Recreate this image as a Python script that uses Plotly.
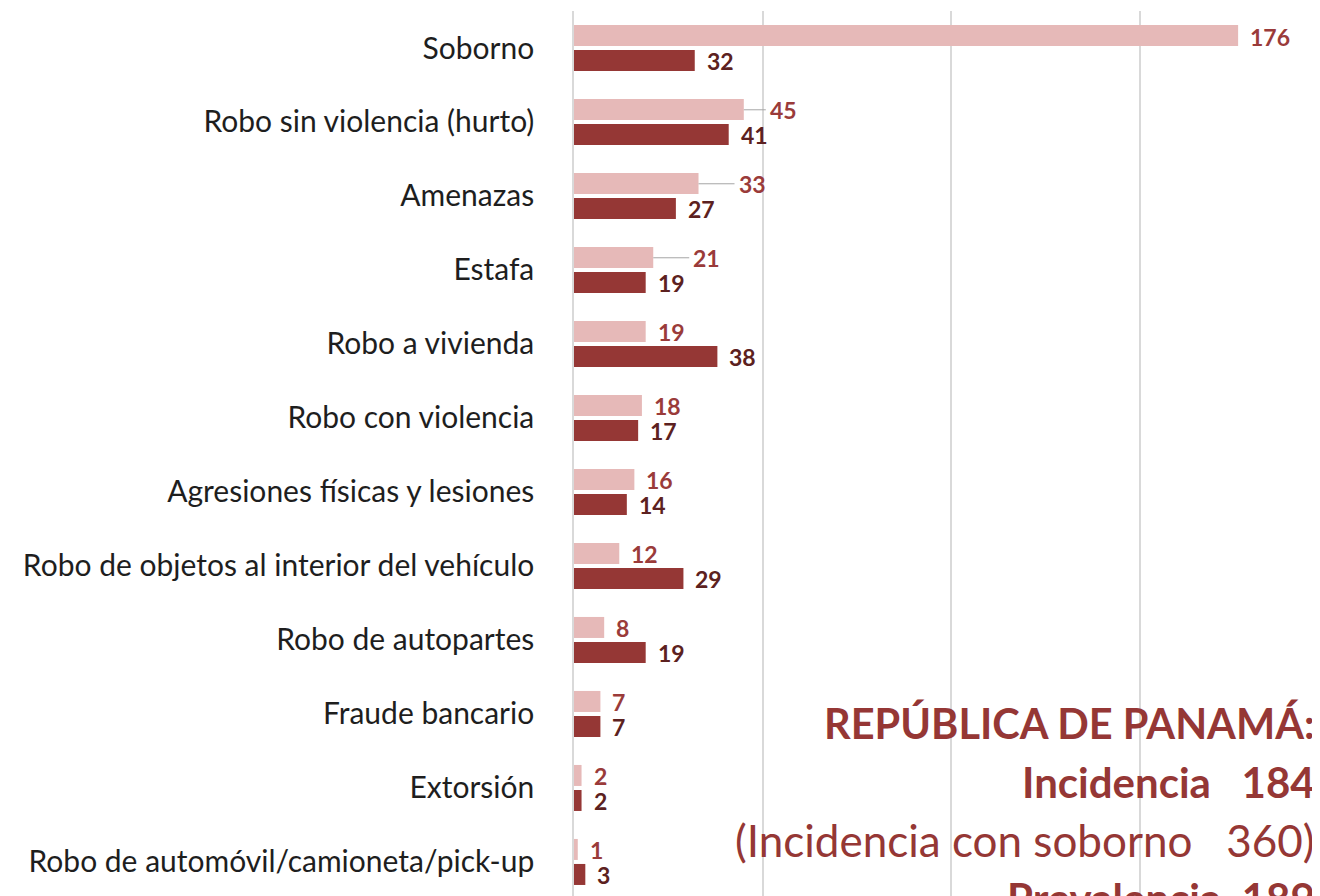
import plotly.graph_objects as go

categories = [
    "Soborno",
    "Robo sin violencia (hurto)",
    "Amenazas",
    "Estafa",
    "Robo a vivienda",
    "Robo con violencia",
    "Agresiones físicas y lesiones",
    "Robo de objetos al interior del vehículo",
    "Robo de autopartes",
    "Fraude bancario",
    "Extorsión",
    "Robo de automóvil/camioneta/pick-up",
]
serie_clara = [176, 45, 33, 21, 19, 18, 16, 12, 8, 7, 2, 1]
serie_oscura = [32, 41, 27, 19, 38, 17, 14, 29, 19, 7, 2, 3]

# extra pixel offsets for the labels that were moved (with leader lines)
label_moves = {1: 14, 2: 28, 3: 28}

resumen = [
    ("<b>REPÚBLICA DE PANAMÁ:</b>", 0, 41.5),
    ("<b>Incidencia\u00a0\u00a0\u00a0184</b>", 1, 42),
    ("(Incidencia con soborno\u00a0\u00a0\u00a0360)", 2, 44),
    ("<b>Prevalencia\u00a0\u00a0189</b>", 3, 42),
]

C_LIGHT = "#E6B9B8"
C_DARK = "#953735"
T_LIGHT = "#9A3B3A"
T_DARK = "#5C2120"
FONT = "Lato"

# figure is placed 8px from the page's top-left corner
W, H = 1312, 888
ML, MT = 566, 3
PW, PH = W - ML, H - MT
XMAX = 197.7
YTOP, YBOT = -0.5, 11.46

idx = list(range(len(categories)))

fig = go.Figure()
fig.add_trace(go.Bar(y=idx, x=serie_clara, orientation="h", marker_color=C_LIGHT,
                     marker_line_width=0, hoverinfo="x"))
fig.add_trace(go.Bar(y=idx, x=serie_oscura, orientation="h", marker_color=C_DARK,
                     marker_line_width=0, hoverinfo="x"))

annotations = []
shapes = []
ppu = PW / XMAX
for i in idx:
    mv = label_moves.get(i, 0)
    annotations.append(dict(x=serie_clara[i], y=i, xref="x", yref="y", text="<b>%d</b>" % serie_clara[i],
                            showarrow=False, xanchor="left", yanchor="middle", xshift=10 + mv, yshift=11.5,
                            font=dict(family=FONT, size=23, color=T_LIGHT)))
    annotations.append(dict(x=serie_oscura[i], y=i, xref="x", yref="y", text="<b>%d</b>" % serie_oscura[i],
                            showarrow=False, xanchor="left", yanchor="middle", xshift=10, yshift=-13,
                            font=dict(family=FONT, size=23, color=T_DARK)))
    if mv:
        shapes.append(dict(type="line", xref="x", yref="y",
                           x0=serie_clara[i], x1=serie_clara[i] + (mv + 8) / ppu,
                           y0=i - 0.165, y1=i - 0.165,
                           line=dict(color="#A6A6A6", width=1)))

# white box hiding grid lines behind the summary text
shapes.append(dict(type="rect", xref="paper", yref="paper", x0=0.2, x1=1.0, y0=0.0, y1=(H - 678) / PH,
                   fillcolor="white", line_width=0, layer="between"))

for text, k, size in resumen:
    ypix = 715 + 58.5 * k  # figure pixel coords
    annotations.append(dict(x=(1309 - ML) / PW, y=(H - ypix) / PH, xref="paper", yref="paper", text=text,
                            showarrow=False, xanchor="right", yanchor="middle",
                            font=dict(family=FONT, size=size, color=C_DARK)))

fig.update_layout(
    width=W, height=H,
    margin=dict(l=ML, r=0, t=MT, b=0),
    paper_bgcolor="white", plot_bgcolor="white",
    barmode="group", bargap=0.324, bargroupgap=0.16,
    showlegend=False,
    annotations=annotations, shapes=shapes,
    xaxis=dict(range=[0, XMAX], tickvals=[0, 50, 100, 150], showticklabels=False,
               showgrid=True, gridcolor="#D9D9D9", gridwidth=1.5, zeroline=False,
               showline=False, fixedrange=True),
    yaxis=dict(range=[YBOT, YTOP], tickvals=idx, ticktext=categories, showgrid=False,
               zeroline=False, showline=True, linecolor="#D9D9D9", linewidth=1.5,
               ticks="", ticklabelstandoff=32,
               tickfont=dict(family=FONT, size=30, color="#1E1E1E")),
)

fig.write_html("out.html")
